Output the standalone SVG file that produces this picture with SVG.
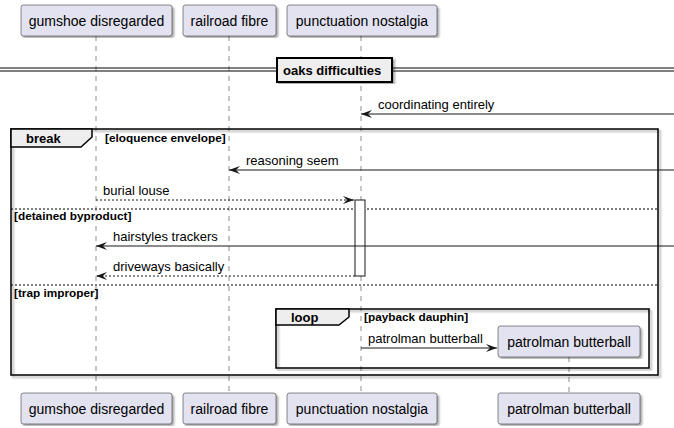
<svg xmlns="http://www.w3.org/2000/svg" width="674" height="428" viewBox="0 0 674 428">
<defs>
<filter id="sh" x="-5%" y="-5%" width="110%" height="110%"><feDropShadow dx="2" dy="2" stdDeviation="1" flood-color="#000" flood-opacity="0.35"/></filter>
<marker id="ah" viewBox="0 0 11 8" refX="11" refY="4" markerWidth="11" markerHeight="8" markerUnits="userSpaceOnUse" orient="auto"><polygon points="0,0 11,4 0,8 4,4" fill="#181818"/></marker>
</defs>
<style>
.p{fill:#E2E2F0;stroke:#181818;stroke-width:0.5}
.pt{font-family:"Liberation Sans",Arial,sans-serif;font-size:14px;fill:#000;text-anchor:middle}
.ll{stroke:#181818;stroke-width:0.5;stroke-dasharray:5,5}
.m{stroke:#181818;stroke-width:1;fill:none}
.d{stroke:#181818;stroke-width:1;fill:none;stroke-dasharray:2,2}
.mt{font-family:"Liberation Sans",Arial,sans-serif;font-size:13px;fill:#000}
.fr{fill:none;stroke:#000;stroke-width:1.5}
.tab{fill:#EEEEEE;stroke:#000;stroke-width:1.5}
.gt{font-family:"Liberation Sans",Arial,sans-serif;font-size:13px;font-weight:bold;fill:#000}
.gl{font-family:"Liberation Sans",Arial,sans-serif;font-size:11.8px;font-weight:bold;fill:#000}
.sep{stroke:#000;stroke-width:1;stroke-dasharray:2,2}
</style>
<g id="lifelines">
<line class="ll" x1="96" y1="36" x2="96" y2="393"/>
<line class="ll" x1="229" y1="36" x2="229" y2="393"/>
<line class="ll" x1="361" y1="36" x2="361" y2="393"/>
<line class="ll" x1="569" y1="357" x2="569" y2="393"/>
</g>
<g id="divider">
<line x1="0" y1="68" x2="674" y2="68" stroke="#000" stroke-width="1"/>
<line x1="0" y1="71" x2="674" y2="71" stroke="#000" stroke-width="1"/>
<rect x="277" y="58" width="115" height="24" fill="#EEEEEE" stroke="#000" stroke-width="2" filter="url(#sh)"/>
<text class="gt" x="283" y="75">oaks difficulties</text>
</g>
<g id="break">
<rect class="fr" x="11" y="129" width="647" height="246" filter="url(#sh)"/>
<path class="tab" d="M11,129 L92,129 L92,137 L81,147 L11,147 Z"/>
<text class="gt" x="26" y="143">break</text>
<text class="gl" x="105" y="142">[eloquence envelope]</text>
<line class="sep" x1="11" y1="209" x2="658" y2="209"/>
<text class="gl" x="14" y="220">[detained byproduct]</text>
<line class="sep" x1="11" y1="285" x2="658" y2="285"/>
<text class="gl" x="14" y="297">[trap improper]</text>
</g>
<g id="loop">
<rect class="fr" x="276" y="309" width="373" height="59" filter="url(#sh)"/>
<path class="tab" d="M276,309 L349,309 L349,317 L339,325 L276,325 Z"/>
<text class="gt" x="291" y="322">loop</text>
<text class="gl" x="364" y="321">[payback dauphin]</text>
</g>
<g id="activation">
<rect x="355" y="200" width="10" height="76" fill="#fff" stroke="#181818" stroke-width="1"/>
</g>
<g id="connectors">
<line class="m" x1="674" y1="114" x2="361" y2="114" marker-end="url(#ah)"/>
<text class="mt" x="378" y="109">coordinating entirely</text>
<line class="m" x1="674" y1="170" x2="229" y2="170" marker-end="url(#ah)"/>
<text class="mt" x="246" y="165">reasoning seem</text>
<line class="d" x1="96" y1="200" x2="354" y2="200" marker-end="url(#ah)"/>
<text class="mt" x="103" y="195">burial louse</text>
<line class="m" x1="674" y1="246" x2="96" y2="246" marker-end="url(#ah)"/>
<text class="mt" x="113" y="241">hairstyles trackers</text>
<line class="d" x1="355" y1="276" x2="96" y2="276" marker-end="url(#ah)"/>
<text class="mt" x="113" y="271">driveways basically</text>
<line class="m" x1="361" y1="348" x2="497" y2="348" marker-end="url(#ah)"/>
<text class="mt" x="368" y="343">patrolman butterball</text>
</g>
<g id="p-gumshoe">
<rect class="p" x="21" y="5" width="151" height="31" rx="2.5" filter="url(#sh)"/>
<text class="pt" x="96.5" y="25.5">gumshoe disregarded</text>
<rect class="p" x="21" y="393" width="151" height="31" rx="2.5" filter="url(#sh)"/>
<text class="pt" x="96.5" y="413.5">gumshoe disregarded</text>
</g>
<g id="p-railroad">
<rect class="p" x="183" y="5" width="93" height="31" rx="2.5" filter="url(#sh)"/>
<text class="pt" x="229.5" y="25.5">railroad fibre</text>
<rect class="p" x="183" y="393" width="93" height="31" rx="2.5" filter="url(#sh)"/>
<text class="pt" x="229.5" y="413.5">railroad fibre</text>
</g>
<g id="p-punctuation">
<rect class="p" x="287" y="5" width="150" height="31" rx="2.5" filter="url(#sh)"/>
<text class="pt" x="362" y="25.5">punctuation nostalgia</text>
<rect class="p" x="287" y="393" width="150" height="31" rx="2.5" filter="url(#sh)"/>
<text class="pt" x="362" y="413.5">punctuation nostalgia</text>
</g>
<g id="p-patrolman">
<rect class="p" x="498" y="326" width="142" height="31" rx="2.5" filter="url(#sh)"/>
<text class="pt" x="569" y="346.5">patrolman butterball</text>
<rect class="p" x="498" y="393" width="142" height="31" rx="2.5" filter="url(#sh)"/>
<text class="pt" x="569" y="413.5">patrolman butterball</text>
</g>
</svg>
